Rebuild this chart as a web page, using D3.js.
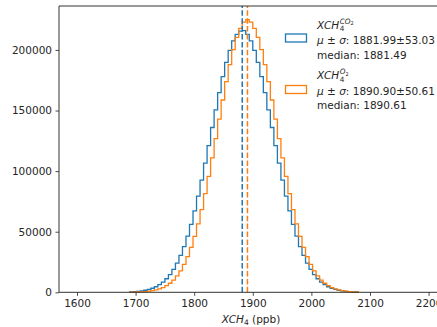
<!DOCTYPE html>
<html>
<head>
<meta charset="UTF-8">
<script src="https://cdn.jsdelivr.net/npm/d3@7"></script>
<style>
  body { margin: 0; background: #fff; }
  svg { display: block; font-family: "DejaVu Sans", sans-serif; }
</style>
</head>
<body>
<script>
// histogram bins (ppb)
var binStart = 1690, binWidth = 6;

// counts per bin
var countsCO2 = [370, 560, 820, 1190, 1700, 2400, 3350, 4600, 6300, 8400,
  11200, 14600, 18900, 24100, 30400, 37700, 46300, 56100, 67200, 79400,
  92600, 106600, 121100, 136000, 150600, 164800, 177900, 189700, 199700, 207500,
  212900, 215600, 216000, 212900, 207500, 199700, 189700, 177900, 164800, 150600,
  136000, 121100, 106600, 92600, 79400, 67200, 56100, 46300, 37700, 30400,
  24100, 18900, 14600, 11200, 8400, 6300, 4600, 3350, 2400, 1700,
  1190, 820, 560, 370, 250];

var countsO2 = [110, 170, 260, 400, 610, 910, 1330, 1930, 2770, 3900,
  5440, 7460, 10100, 13500, 17700, 23000, 29400, 37000, 46100, 56500,
  68300, 81400, 95700, 110900, 126800, 142900, 158700, 173900, 187900, 200200,
  210300, 217800, 223000, 225000, 223000, 217800, 210300, 200200, 187900, 173900,
  158700, 142900, 126800, 110900, 95700, 81400, 68300, 56500, 46100, 37000,
  29400, 23000, 17700, 13500, 10100, 7460, 5440, 3900, 2770, 1930,
  1330, 910, 610, 400, 260];

var meanCO2 = 1881.99, meanO2 = 1890.90;
var xTicks = [1600, 1700, 1800, 1900, 2000, 2100, 2200];
var yTicks = [0, 50000, 100000, 150000, 200000];
var legendCO2 = ["1881.99±53.03", "median: 1881.49"];
var legendO2 = ["1890.90±50.61", "median: 1890.61"];

var svgWidth = 437, svgHeight = 327;
var blue = "#1f77b4", orange = "#ff7f0e", ink = "#262626";

// axes box (right side runs past the window, like the reference crop)
var boxLeft = 59, boxTop = 6, boxRight = 443, boxBottom = 292.3;

var svg = d3.select("body").append("svg")
  .attr("width", svgWidth)
  .attr("height", svgHeight);

var x = d3.scaleLinear()
  .domain([1569.3, 2224.6])
  .range([boxLeft, boxRight]);

var yMax = d3.max(countsCO2.concat(countsO2)) * 1.05;
var y = d3.scaleLinear()
  .domain([0, yMax])
  .range([boxBottom, boxTop]);

function stepPoints(counts) {
  var pts = [[binStart, 0]];
  counts.forEach(function(c, i) {
    pts.push([binStart + i * binWidth, c]);
    pts.push([binStart + (i + 1) * binWidth, c]);
  });
  pts.push([binStart + counts.length * binWidth, 0]);
  return pts;
}

var line = d3.line()
  .x(function(d) { return x(d[0]); })
  .y(function(d) { return y(d[1]); });

var plot = svg.append("g");

plot.append("path")
  .attr("d", line(stepPoints(countsCO2)))
  .attr("fill", "none")
  .attr("stroke", blue)
  .attr("stroke-width", 1.3);

plot.append("path")
  .attr("d", line(stepPoints(countsO2)))
  .attr("fill", "none")
  .attr("stroke", orange)
  .attr("stroke-width", 1.3);

// mean lines
[[meanCO2, blue], [meanO2, orange]].forEach(function(m) {
  plot.append("line")
    .attr("x1", x(m[0])).attr("x2", x(m[0]))
    .attr("y1", boxBottom).attr("y2", boxTop)
    .attr("stroke", m[1])
    .attr("stroke-width", 1.5)
    .attr("stroke-dasharray", "5.5,2.4");
});

// spines
svg.append("path")
  .attr("d", "M" + boxRight + "," + boxBottom + "H" + boxLeft + "V" + boxTop + "H" + boxRight)
  .attr("fill", "none")
  .attr("stroke", "#333")
  .attr("stroke-width", 1);

// axes
var xAxis = d3.axisBottom(x).tickValues(xTicks).tickSize(3.5).tickPadding(3.5)
  .tickFormat(d3.format("d"));
var yAxis = d3.axisLeft(y).tickValues(yTicks).tickSize(3.5).tickPadding(3.5)
  .tickFormat(d3.format("d"));

var gX = svg.append("g")
  .attr("transform", "translate(0," + boxBottom + ")")
  .call(xAxis);
var gY = svg.append("g")
  .attr("transform", "translate(" + boxLeft + ",0)")
  .call(yAxis);

[gX, gY].forEach(function(g) {
  g.select(".domain").remove();
  g.selectAll("line").attr("stroke", "#333").attr("stroke-width", 0.9);
  g.selectAll("text")
    .attr("fill", ink)
    .style("font-size", "10.5px")
    .style("font-family", "DejaVu Sans, sans-serif");
});

// x label
var xl = svg.append("text")
  .attr("x", 251).attr("y", 322.5)
  .attr("text-anchor", "middle")
  .attr("fill", ink)
  .style("font-size", "10.5px");
xl.append("tspan").style("font-style", "italic").text("XCH");
xl.append("tspan").attr("dy", 2.2).style("font-size", "7.5px").text("4");
xl.append("tspan").attr("dy", -2.2).text(" (ppb)");

// mathtext-ish XCH_4^{sup}
function mathLabel(xp, yp, supMain, supSub) {
  var t = svg.append("text")
    .attr("x", xp).attr("y", yp)
    .attr("fill", ink)
    .style("font-size", "10.5px")
    .style("font-style", "italic")
    .text("XCH");
  var w = t.node().getComputedTextLength();
  svg.append("text")
    .attr("x", xp + w + 0.5).attr("y", yp + 2.5)
    .attr("fill", ink)
    .style("font-size", "7.3px")
    .text("4");
  var s = svg.append("text")
    .attr("x", xp + w + 0.5).attr("y", yp - 5)
    .attr("fill", ink)
    .style("font-size", "7.3px")
    .style("font-style", "italic");
  s.append("tspan").text(supMain);
  s.append("tspan").attr("dy", 1.5).style("font-size", "5px").style("font-style", "normal").text(supSub);
}

function statLine(xp, yp, value) {
  var t = svg.append("text")
    .attr("x", xp).attr("y", yp)
    .attr("fill", ink)
    .style("font-size", "10.5px");
  t.append("tspan").style("font-style", "italic").text("μ");
  t.append("tspan").text(" ± ");
  t.append("tspan").style("font-style", "italic").text("σ");
  t.append("tspan").text(": " + value);
}

function legendEntry(color, yHandle, yTop, rows, supMain, supSub) {
  svg.append("rect")
    .attr("x", 285.5).attr("y", yHandle)
    .attr("width", 21).attr("height", 8)
    .attr("fill", "none")
    .attr("stroke", color)
    .attr("stroke-width", 1.3);
  mathLabel(317, yTop, supMain, supSub);
  statLine(317, yTop + 15.5, rows[0]);
  svg.append("text")
    .attr("x", 317).attr("y", yTop + 30)
    .attr("fill", ink)
    .style("font-size", "10.5px")
    .text(rows[1]);
}

legendEntry(blue, 34, 28.5, legendCO2, "CO", "2");
legendEntry(orange, 85.5, 79, legendO2, "O", "2");
</script>
</body>
</html>
